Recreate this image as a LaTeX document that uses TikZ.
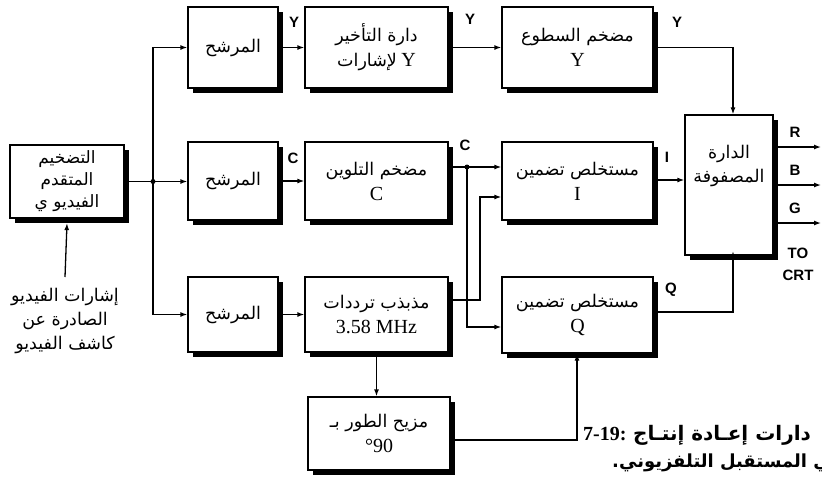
\documentclass[tikz,border=0pt]{standalone}
\usepackage{fontspec}
\setmainfont{Liberation Serif}
\newfontfamily\arabicfont[Script=Arabic]{DejaVu Sans}
\newfontfamily\lblfont{Liberation Sans}
\TeXXeTstate=1
\usetikzlibrary{shadows,arrows.meta}
\newcommand{\artxt}[1]{{\arabicfont\beginR #1\endR}}
\newcommand{\lat}[1]{{\fontsize{20}{24}\selectfont #1}}
\begin{document}
\begin{tikzpicture}[x=1pt,y=-1pt,
  box/.style={draw, line width=1.3pt, fill=white, align=center, inner sep=1pt,
    drop shadow={shadow xshift=4.5pt,shadow yshift=-4.5pt,fill=black,opacity=1},
    font=\fontsize{17.5}{25}\selectfont},
  conn/.style={line width=1.3pt},
  arr/.style={conn,-{Latex[length=7pt,width=5pt]}},
  lbl/.style={font=\lblfont\bfseries\fontsize{15}{15}\selectfont, inner sep=0pt},
  jdot/.style={circle, fill, inner sep=0pt, minimum size=5pt},
  plain/.style={align=center, inner sep=0pt, font=\fontsize{17.5}{24}\selectfont}]
\useasboundingbox (0,0) rectangle (822,483);
\fill[white] (0,0) rectangle (822,483);

% boxes
\node[box, minimum width=114pt, minimum height=73pt, font=\fontsize{17}{22}\selectfont] (va) at (67,181.5)
  {\artxt{التضخيم}\\\artxt{المتقدم}\\\artxt{الفيديو ي}};
\node[box, minimum width=90pt, minimum height=81pt] (f1) at (233,47.5) {\artxt{المرشح}};
\node[box, minimum width=143pt, minimum height=81pt] (delay) at (376.5,47.5)
  {\artxt{دارة التأخير}\\\artxt{لإشارات} \lat{Y}};
\node[box, minimum width=151pt, minimum height=81pt] (bright) at (577.5,47.5)
  {\artxt{مضخم السطوع}\\\lat{Y}};
\node[box, minimum width=90pt, minimum height=78pt] (f2) at (233,181) {\artxt{المرشح}};
\node[box, minimum width=143pt, minimum height=78pt] (camp) at (376.5,181)
  {\artxt{مضخم التلوين}\\\lat{C}};
\node[box, minimum width=151pt, minimum height=78pt] (idem) at (577.5,181)
  {\artxt{مستخلص تضمين}\\\lat{I}};
\node[box, minimum width=88pt, minimum height=140pt] (mx) at (729,185) {};
\node[plain] (mxt) at (729,166) {\artxt{الدارة}\\\artxt{المصفوفة}};
\node[box, minimum width=90pt, minimum height=75pt] (f3) at (233,314.5) {\artxt{المرشح}};
\node[box, minimum width=143pt, minimum height=75pt] (osc) at (376.5,314.5)
  {\artxt{مذبذب ترددات}\\\lat{3.58 MHz}};
\node[box, minimum width=151pt, minimum height=76pt] (qdem) at (577.5,315)
  {\artxt{مستخلص تضمين}\\\lat{Q}};
\node[box, minimum width=142pt, minimum height=73pt] (ph) at (379,433.5)
  {\artxt{مزيح الطور بـ}\\\lat{°90}};

% input text
\node[plain] (intxt) at (65,321)
  {\artxt{إشارات الفيديو}\\\artxt{الصادرة عن}\\\artxt{كاشف الفيديو}};
\coordinate (inb) at (65,277);
\draw[arr] (inb) -- ([yshift=-4.5pt]va.south);

% splitter
\coordinate (J) at (153,181.5);
\draw[conn] (va.east) -- (J);
\node[jdot] (Jd) at (J) {};
\draw[arr] (J) -- (f2.west |- J);
\draw[arr] (J) |- (f1.west);
\draw[arr] (J) |- (f3.west);

% top row
\draw[arr] (f1.east) -- (delay.west);
\draw[arr] (delay.east) -- (bright.west);
\coordinate (yc) at (733,47.5);
\draw[arr] (bright.east) -- (yc) -- (yc |- mx.north);

% middle row
\draw[arr] (f2.east) -- (camp.west);
\coordinate (CJ) at (467,167);
\draw[conn] (camp.east |- CJ) -- (CJ);
\node[jdot] (CJd) at (CJ) {};
\draw[arr] (CJ) -- (idem.west |- CJ);
\coordinate (CQ) at (467,327);
\draw[arr] (CJ) -- (CQ) -- (qdem.west |- CQ);
\coordinate (ob) at (480,300);
\coordinate (ot) at (480,197);
\draw[arr] (osc.east |- ob) -- (ob) -- (ot) -- (idem.west |- ot);
\draw[arr] (idem.east |- 0,180) -- (mx.west |- 0,180);

% bottom row
\draw[arr] (f3.east) -- (osc.west);
\draw[arr] (osc.south -| 376.5,0) -- (ph.north -| 376.5,0);
\coordinate (pq) at (577,440);
\draw[arr] (ph.east |- pq) -- (pq) -- (pq |- qdem.south);
\coordinate (qo) at (733,312);
\draw[arr] (qdem.east |- qo) -- (qo) -- ([yshift=4.5pt]qo |- mx.south);

% outputs
\coordinate (oR) at (821,147);
\coordinate (oB) at (821,185);
\coordinate (oG) at (821,223);
\draw[arr] (mx.east |- oR) -- (oR);
\draw[arr] (mx.east |- oB) -- (oB);
\draw[arr] (mx.east |- oG) -- (oG);

% labels
\node[lbl] (lY1) at (294,22) {Y};
\node[lbl] (lY2) at (470,19) {Y};
\node[lbl] (lY3) at (677,22) {Y};
\node[lbl] (lC1) at (293,158) {C};
\node[lbl] (lC2) at (465,145) {C};
\node[lbl] (lI) at (667,157) {I};
\node[lbl] (lQ) at (671,290) {Q};
\node[lbl] (lR) at (795,132) {R};
\node[lbl] (lB) at (795,170) {B};
\node[lbl] (lG) at (795,208) {G};
\node[lbl, align=center, font=\lblfont\bfseries\fontsize{15}{22}\selectfont] (lcrt) at (798,264) {TO\\CRT};

% caption (cut at the right edge)
\node[anchor=base west, inner sep=0pt, font=\fontsize{20}{20}\selectfont] (cap1) at (583,440)
  {\bfseries 7-19: {\arabicfont\bfseries\beginR دارات إعـادة إنتـاج\endR}};
\node[anchor=base west, inner sep=0pt, font=\fontsize{18}{18}\selectfont] (cap2) at (612,467)
  {{\arabicfont\bfseries\beginR في المستقبل التلفزيوني.\endR}};
\end{tikzpicture}
\end{document}
